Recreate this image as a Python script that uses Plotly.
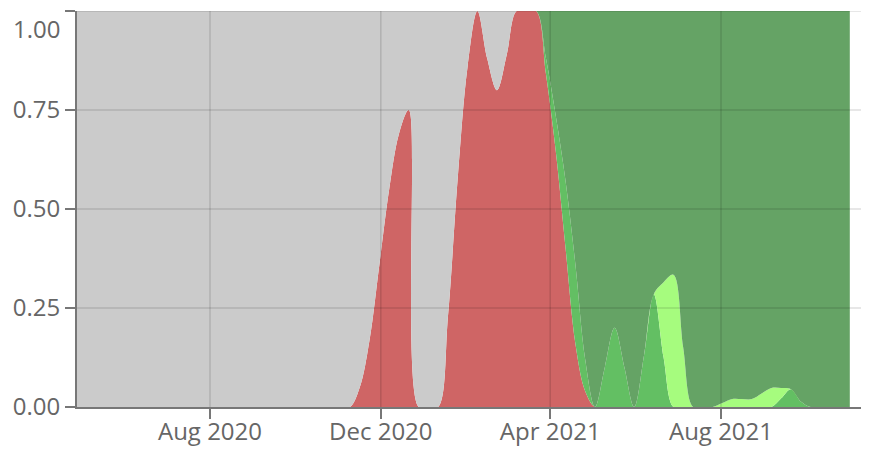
import pandas as pd
import plotly.graph_objects as go

# weekly dates (Mondays)
dates = list(pd.date_range("2020-04-27", periods=80, freq="7D"))

red = [0, 0, 0, 0, 0, 0, 0, 0, 0, 0,
       0, 0, 0, 0, 0, 0, 0, 0, 0, 0,
       0, 0, 0, 0, 0, 0, 0, 0, 0, 0.05,
       0.17, 0.36, 0.55, 0.69, 0.75, 0, 0, 0, 0.23, 0.58,
       0.86, 1.0, 0.88, 0.80, 0.89, 1.0, 1.0, 1.0, 0.84, 0.645,
       0.40, 0.16, 0.04, 0, 0, 0, 0, 0, 0, 0,
       0, 0, 0, 0, 0, 0, 0, 0, 0, 0,
       0, 0, 0, 0, 0, 0, 0, 0, 0, 0]

green = [0, 0, 0, 0, 0, 0, 0, 0, 0, 0,
         0, 0, 0, 0, 0, 0, 0, 0, 0, 0,
         0, 0, 0, 0, 0, 0, 0, 0, 0, 0,
         0, 0, 0, 0, 0, 0, 0, 0, 0, 0,
         0, 0, 0, 0, 0, 0, 0, 0, 0.04, 0.09,
         0.17, 0.20, 0.08, 0, 0.10, 0.20, 0.10, 0, 0.13, 0.285,
         0.125, 0, 0, 0, 0, 0, 0, 0, 0, 0,
         0, 0, 0.022, 0.045, 0.014, 0, 0, 0, 0, 0]

light_green = [0, 0, 0, 0, 0, 0, 0, 0, 0, 0,
               0, 0, 0, 0, 0, 0, 0, 0, 0, 0,
               0, 0, 0, 0, 0, 0, 0, 0, 0, 0,
               0, 0, 0, 0, 0, 0, 0, 0, 0, 0,
               0, 0, 0, 0, 0, 0, 0, 0, 0, 0,
               0, 0, 0, 0, 0, 0, 0, 0, 0, 0,
               0.19, 0.334, 0.15, 0, 0, 0, 0.01, 0.02, 0.02, 0.02,
               0.034, 0.048, 0.026, 0, 0, 0, 0, 0, 0, 0]

dark_green = [0, 0, 0, 0, 0, 0, 0, 0, 0, 0,
              0, 0, 0, 0, 0, 0, 0, 0, 0, 0,
              0, 0, 0, 0, 0, 0, 0, 0, 0, 0,
              0, 0, 0, 0, 0, 0, 0, 0, 0, 0,
              0, 0, 0, 0, 0, 0, 0, 0, 0.12, 0.265,
              0.43, 0.64, 0.88, 1.0, 0.90, 0.80, 0.90, 1.0, 0.87, 0.715,
              0.685, 0.666, 0.85, 1.0, 1.0, 1.0, 0.99, 0.98, 0.98, 0.98,
              0.966, 0.952, 0.952, 0.955, 0.986, 1.0, 1.0, 1.0, 1.0, 1.0]

gray = [1, 1, 1, 1, 1, 1, 1, 1, 1, 1,
        1, 1, 1, 1, 1, 1, 1, 1, 1, 1,
        1, 1, 1, 1, 1, 1, 1, 1, 1, 0.95,
        0.83, 0.64, 0.45, 0.31, 0.25, 1, 1, 1, 0.77, 0.42,
        0.14, 0, 0.12, 0.20, 0.11, 0, 0, 0, 0, 0,
        0, 0, 0, 0, 0, 0, 0, 0, 0, 0,
        0, 0, 0, 0, 0, 0, 0, 0, 0, 0,
        0, 0, 0, 0, 0, 0, 0, 0, 0, 0]

x_tickvals = ["2020-08-01", "2020-12-01", "2021-04-01", "2021-08-01"]
x_ticktext = ["Aug 2020", "Dec 2020", "Apr 2021", "Aug 2021"]
y_tickvals = [0, 0.25, 0.5, 0.75, 1.0]
y_ticktext = ["0.00", "0.25", "0.50", "0.75", "1.00"]

series = [
    (red, "#cf6565"),
    (green, "#63bf63"),
    (light_green, "#a6fc7e"),
    (dark_green, "#65a365"),
    (gray, "#cbcbcb"),
]

fig = go.Figure()
for vals, col in series:
    fig.add_trace(go.Scatter(
        x=dates, y=vals, mode="lines", stackgroup="one",
        line=dict(width=0, shape="spline", color=col),
        fillcolor=col, hoverinfo="skip", showlegend=False,
    ))

grid_col = "rgba(0,0,0,0.13)"
for v in y_tickvals[1:]:
    fig.add_shape(type="line", xref="paper", yref="y", x0=0, x1=1, y0=v, y1=v,
                  line=dict(color=grid_col, width=1.5), layer="above")
for d in x_tickvals:
    fig.add_shape(type="line", xref="x", yref="paper", x0=d, x1=d, y0=0, y1=1,
                  line=dict(color=grid_col, width=1.5), layer="above")

tick_font = dict(family="Open Sans", size=24, color="#666")

fig.add_annotation(text=y_ticktext[-1], xref="paper", yref="y", x=0, y=y_tickvals[-1],
                   xanchor="right", yanchor="middle", xshift=-15, yshift=-17,
                   showarrow=False, font=tick_font)

fig.update_layout(
    width=861, height=444,
    margin=dict(l=69, r=1, t=3, b=45),
    plot_bgcolor="white", paper_bgcolor="white",
    xaxis=dict(range=["2020-04-28", "2021-11-14"], tickvals=x_tickvals, ticktext=x_ticktext,
               showgrid=False, zeroline=False, showline=True, linecolor="#777", linewidth=2,
               ticks="outside", ticklen=10, tickwidth=1.5, tickcolor="#777", tickfont=tick_font,
               ticklabelstandoff=-8),
    yaxis=dict(range=[0, 1], tickvals=y_tickvals, ticktext=y_ticktext[:-1] + [""],
               showgrid=False, zeroline=False, showline=True, linecolor="#777", linewidth=2,
               ticks="outside", ticklen=10, tickwidth=1.5, tickcolor="#777", tickfont=tick_font),
)

fig.write_html("out.html")
